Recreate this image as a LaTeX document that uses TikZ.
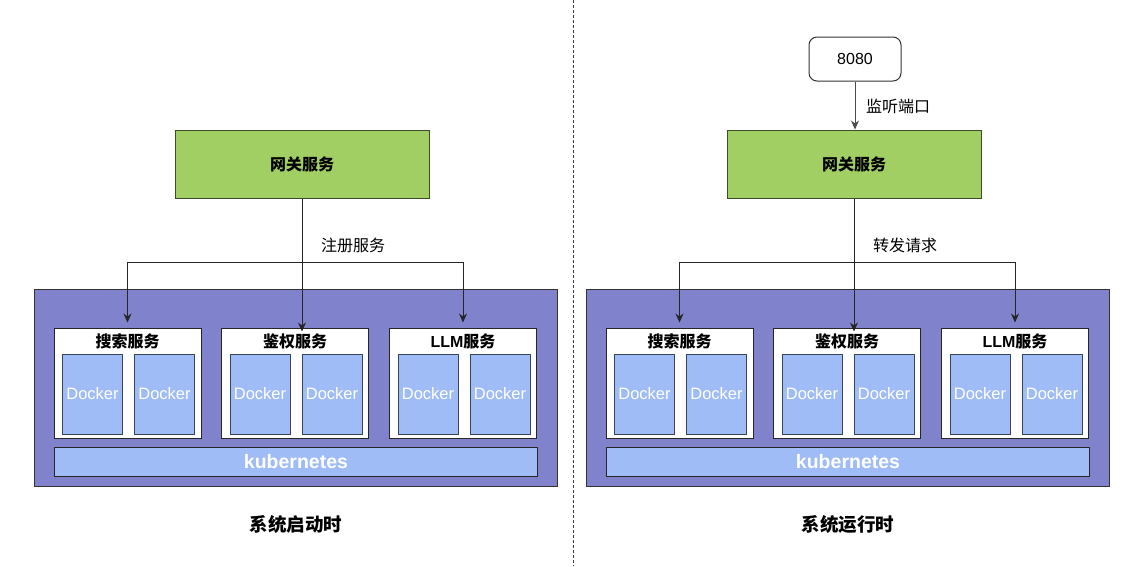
\documentclass[tikz,border=0pt]{standalone}
\usepackage{fontspec}
\setmainfont{Liberation Sans}
\newfontfamily\cjk{Noto Sans CJK SC}
\usetikzlibrary{arrows.meta,calc,positioning}

\definecolor{gwgreen}{HTML}{A1CF64}
\definecolor{gwborder}{HTML}{3E4A2A}
\definecolor{k8spurple}{HTML}{8083CB}
\definecolor{dockblue}{HTML}{A0BCF7}
\definecolor{dockborder}{HTML}{3A4458}

\tikzset{
  gatebox/.style={draw=gwborder, fill=gwgreen, line width=1pt, minimum width=254pt, minimum height=68pt,
    font=\fontsize{16}{19}\selectfont\bfseries\cjk},
  clusterbox/.style={draw=black!80, fill=k8spurple, line width=1pt, minimum width=523pt, minimum height=197pt},
  svcbox/.style={draw=black!85, fill=white, line width=1pt, minimum width=147pt, minimum height=110pt},
  svctitle/.style={font=\fontsize{16}{19}\selectfont\bfseries},
  dockbox/.style={draw=dockborder, fill=dockblue, line width=1pt, minimum width=60pt, minimum height=80pt,
    inner sep=0pt, text=white, font=\fontsize{16.5}{19}\selectfont},
  k8sbar/.style={draw=black!85, fill=dockblue, line width=1pt, minimum width=483pt, minimum height=29pt,
    inner sep=0pt, text=white, font=\fontsize{19.5}{21}\selectfont\bfseries},
  portbox/.style={draw=black!80, fill=white, rounded corners=8pt, line width=1pt, minimum width=92pt, minimum height=44pt,
    font=\fontsize{16}{19}\selectfont},
  conn/.style={draw=black!85, line width=1pt, -{Stealth[length=9pt,width=8pt]}},
  connlabel/.style={anchor=west, inner sep=0pt, font=\fontsize{16}{19}\selectfont\cjk},
  caption/.style={font=\fontsize{18.5}{21}\selectfont\bfseries\cjk}
}

\begin{document}
\begin{tikzpicture}[x=1pt,y=-1pt]
\useasboundingbox (0,0) rectangle (1140,566);

% deux panneaux : gauche (démarrage) et droite (exécution)
\foreach \side/\dx/\lbl/\cap in {l/0/注册服务/系统启动时, r/552/转发请求/系统运行时} {
  \node[gatebox] (\side gw) at (302+\dx,164) {网关服务};
  \node[clusterbox] (\side k8s) at (296+\dx,387.5) {};

  % services avec deux conteneurs chacun
  \foreach \i/\sx/\sname in {1/127.5/{\cjk 搜索服务}, 2/295/{\cjk 鉴权服务}, 3/463/{LLM\cjk 服务}} {
    \node[svcbox] (\side s\i) at (\sx+\dx,383) {};
    \node[svctitle] (\side t\i) at ($(\side s\i.north)+(0,14)$) {\sname};
    \node[dockbox] (\side d\i a) at ($(\side s\i)+(-35,11)$) {Docker};
    \node[dockbox] (\side d\i b) at ($(\side s\i)+(37,11)$) {Docker};
  }
  \node[k8sbar] (\side bar) at (296+\dx,461.5) {kubernetes};

  % flèches vers les services
  \draw[conn, shorten >=-4pt] (\side gw.south) -- (\side gw.south |- \side s2.north);
  \draw[conn, shorten >=5pt] (\side gw.south) -- ++(0,64) -| (\side s1.north);
  \draw[conn, shorten >=5pt] (\side gw.south) -- ++(0,64) -| (\side s3.north);
  \node[connlabel] (\side lab) at ($(\side gw.south)+(19,47)$) {\lbl};

  \node[caption] (\side cap) at (296+\dx,524) {\cap};
}

% port d'écoute
\node[portbox] (port) at (855,59) {8080};
\draw[conn, draw=black!70] (port) -- (port |- rgw.north);
\node[connlabel] (portlab) at ($(port.south)+(11,25)$) {监听端口};

% séparation
\draw[black!75, line width=1pt, dash pattern=on 3pt off 2pt] (573,0) -- (573,566);
\end{tikzpicture}
\end{document}
